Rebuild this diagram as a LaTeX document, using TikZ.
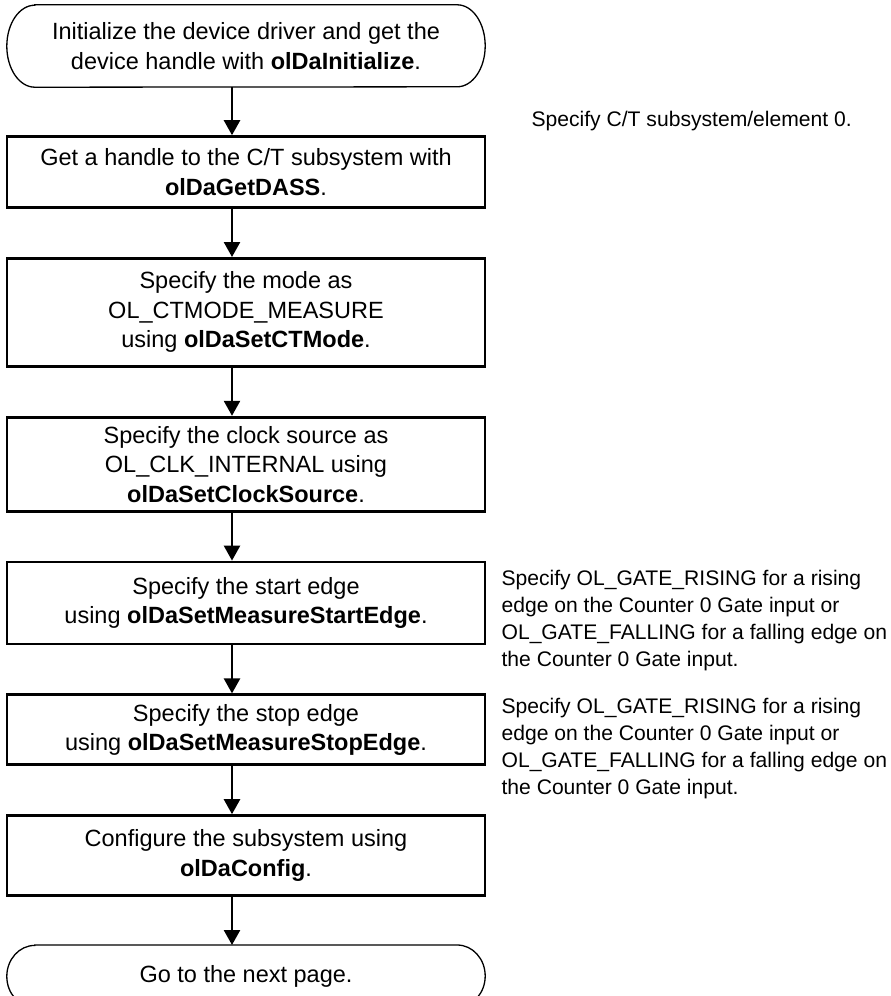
\documentclass[tikz,border=0pt]{standalone}
\usepackage{fontspec}
\setmainfont{Liberation Sans}
\usepackage{tikz}
\usetikzlibrary{arrows.meta,positioning}

\begin{document}
\begin{tikzpicture}[
  node distance=48pt,
  every node/.style={font=\fontsize{23.5}{29.5}\selectfont},
  box/.style={draw,line width=2.8pt,minimum width=478pt,align=center,inner sep=4pt},
  term/.style={minimum width=478pt,align=center,inner sep=4pt},
  termline/.style={line width=1.3pt},
  note/.style={align=left,inner sep=0pt,font=\fontsize{21.1}{27}\selectfont},
  arrow/.style={-{Triangle[width=16pt,length=15pt]},line width=2.5pt}
]
\useasboundingbox (0,0) rectangle (891pt,-996pt);

\node[term, minimum height=82pt] (init) at (246pt,-46pt)
  {Initialize the device driver and get the\\device handle with \textbf{olDaInitialize}.};
\node[box, below=of init, minimum height=71pt] (dass)
  {Get a handle to the C/T subsystem with\\\textbf{olDaGetDASS}.};
\node[box, below=of dass, minimum height=108pt] (mode)
  {Specify the mode as\\OL\_CTMODE\_MEASURE\\using \textbf{olDaSetCTMode}.};
\node[box, below=of mode, minimum height=94pt] (clk)
  {Specify the clock source as\\OL\_CLK\_INTERNAL using\\\textbf{olDaSetClockSource}.};
\node[box, below=of clk, minimum height=82pt] (start)
  {Specify the start edge\\using \textbf{olDaSetMeasureStartEdge}.};
\node[box, below=of start, minimum height=70pt] (stop)
  {Specify the stop edge\\using \textbf{olDaSetMeasureStopEdge}.};
\node[box, below=of stop, minimum height=80pt] (cfg)
  {Configure the subsystem using\\\textbf{olDaConfig}.};
\node[term, below=of cfg, minimum height=62pt] (next) {Go to the next page.};

% rounded ends of the start and end boxes
\draw[termline] ([xshift=28pt]init.north west) -- ([xshift=-28pt]init.north east)
  arc[start angle=90,end angle=-90,x radius=28pt,y radius=41pt]
  -- ([xshift=28pt]init.south west)
  arc[start angle=270,end angle=90,x radius=28pt,y radius=41pt] -- cycle;
\draw[termline] ([xshift=28pt]next.north west) -- ([xshift=-28pt]next.north east)
  arc[start angle=90,end angle=-90,x radius=28pt,y radius=31pt]
  -- ([xshift=28pt]next.south west)
  arc[start angle=270,end angle=90,x radius=28pt,y radius=31pt] -- cycle;

\draw[arrow] ([xshift=-14pt]init.south) -- ([xshift=-14pt]dass.north);
\draw[arrow] ([xshift=-14pt]dass.south) -- ([xshift=-14pt]mode.north);
\draw[arrow] ([xshift=-14pt]mode.south) -- ([xshift=-14pt]clk.north);
\draw[arrow] ([xshift=-14pt]clk.south) -- ([xshift=-14pt]start.north);
\draw[arrow] ([xshift=-14pt]start.south) -- ([xshift=-14pt]stop.north);
\draw[arrow] ([xshift=-14pt]stop.south) -- ([xshift=-14pt]cfg.north);
\draw[arrow] ([xshift=-14pt]cfg.south) -- ([xshift=-14pt]next.north);

\node[note, right=45pt of dass.north east, yshift=14pt] (dassnote)
  {Specify C/T subsystem/element 0.};
\node[note, below right=9pt and 15pt of start.north east] (startnote)
  {Specify OL\_GATE\_RISING for a rising\\edge on the Counter 0 Gate input or\\OL\_GATE\_FALLING for a falling edge on\\the Counter 0 Gate input.};
\node[note, below right=5pt and 15pt of stop.north east] (stopnote)
  {Specify OL\_GATE\_RISING for a rising\\edge on the Counter 0 Gate input or\\OL\_GATE\_FALLING for a falling edge on\\the Counter 0 Gate input.};
\end{tikzpicture}
\end{document}
